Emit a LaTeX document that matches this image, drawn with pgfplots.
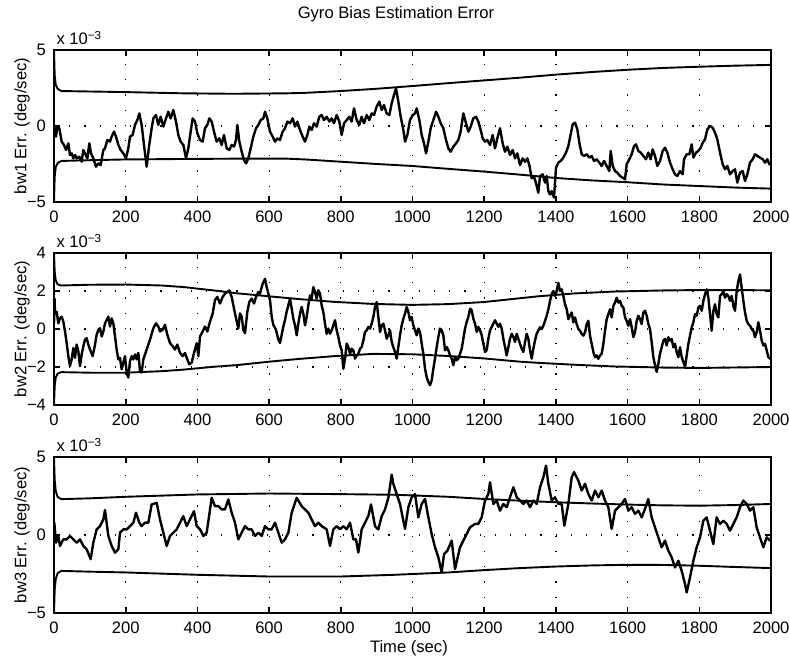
\documentclass[border=0pt]{standalone}
\usepackage{pgfplots}
\pgfplotsset{compat=1.18}
\usepackage{fontspec}
\setmainfont{Liberation Sans}

\newcommand{\lbl}{\fontsize{8.3}{10}\selectfont}

\pgfplotsset{
  errax/.style={
    anchor=north west,
    width=358.5pt, scale only axis,
    xmin=0, xmax=2000, xtick={0,200,...,2000},
    scaled x ticks=false,
    /pgf/number format/1000 sep={},
    /pgf/number format/assume math mode=true,
    tick align=inside, tick pos=both,
    major tick length=3pt,
    every tick/.style={black, line width=0.8pt},
    axis line style={line width=1pt},
    grid=major,
    grid style={black, line width=0.6pt, dash pattern=on 0.6pt off 7pt},
    tick label style={font=\lbl},
    label style={font=\lbl},
    xticklabel style={yshift=-1pt},
    yticklabel style={xshift=-0.5pt},
    ylabel style={at={(axis description cs:-0.0445,0.5)}, anchor=center},
    extra description/.code={
      \node[font=\lbl, anchor=south west, inner sep=0pt] at (0.003,1.03) {x 10\textsuperscript{−3}};},
  },
  trace/.style={black, line width=1.2pt, line join=round},
  bound/.style={black, line width=0.95pt, line join=round},
}

\begin{document}
\begin{tikzpicture}
\path[use as bounding box] (-27pt,25pt) rectangle (368pt,-306.5pt);

% ---------- bw1 ----------
\begin{axis}[errax, at={(0,0)}, height=76pt,
  ymin=-5, ymax=5, ytick={-5,0,5}, yticklabels={−5,0,5},
  ylabel={bw1 Err. (deg/sec)},
  extra description/.append code={
    \node[font=\lbl, anchor=center] at (0.477,1) [yshift=18pt] {Gyro Bias Estimation Error};}]
\addplot[bound] coordinates {(0,5)(2,3.3)(5,2.7)(10,2.45)(20,2.3)(100,2.27)(200,2.23)(360,2.15)(500,2.12)(650,2.15)(700,2.18)(800,2.3)(900,2.45)(1000,2.63)(1100,2.82)(1200,3.0)(1300,3.18)(1400,3.38)(1500,3.55)(1600,3.7)(1700,3.82)(1800,3.9)(1900,3.97)(2000,4.02)};
\addplot[bound] coordinates {(0,-5)(2,-3.3)(5,-2.7)(10,-2.45)(20,-2.3)(100,-2.25)(200,-2.2)(360,-2.17)(500,-2.15)(650,-2.15)(700,-2.2)(800,-2.35)(900,-2.5)(1000,-2.63)(1100,-2.82)(1200,-3.0)(1300,-3.2)(1400,-3.42)(1500,-3.58)(1600,-3.7)(1700,-3.85)(1800,-3.95)(1900,-4.05)(2000,-4.12)};
\addplot[trace] coordinates {(0,0.1)(2,-0.3)(5.6,-0.7)(9.3,-0.04)(14.9,-0.15)(21.4,-1.03)(27.9,-1.25)(33.5,-1.58)(40,-1.14)(44.6,-1.91)(49.3,-1.8)(53.9,-2.13)(58.6,-1.91)(63.2,-2.13)(70.7,-2.02)(77.2,-2.35)(81.8,-1.58)(86.5,-1.8)(93,-2.13)(98.6,-1.14)(103.2,-1.8)(109.7,-2.13)(117.2,-2.68)(123.7,-2.46)(130.2,-2.57)(137.6,-1.58)(142.3,-1.47)(148.8,-0.92)(156.2,-1.03)(160.9,-0.7)(167.4,-0.37)(172.9,-0.7)(179.5,-1.25)(186,-1.58)(193.4,-1.8)(200.8,-2.13)(207.3,-1.47)(212,-0.7)(219.4,-0.59)(225.9,0.07)(232.4,0.39)(238,0.83)(244.5,0.07)(251,-1.25)(258.5,-2.68)(265,-1.36)(272.4,-0.15)(277.1,0.5)(284.5,0.72)(291,0.07)(297.5,0.61)(305,-0.04)(312.4,0.5)(318.9,0.94)(325.4,0.5)(332.9,1.05)(340.3,0.29)(346.8,-0.59)(353.3,-1.03)(360.8,-1.25)(368.2,-2.13)(374.7,-1.47)(381.2,-0.37)(386.8,0.5)(393.3,0.29)(399.8,-0.48)(407.3,-0.92)(414.7,-1.03)(421.2,-0.15)(427.7,0.07)(433.3,0.5)(439.8,0.29)(446.3,-0.37)(453.7,-1.03)(461.2,-0.81)(467.7,-1.25)(474.2,-0.59)(481.6,-1.47)(489.1,-1.58)(495.6,-1.25)(502.1,-1.36)(507.7,-0.92)(511.4,0.07)(517,-1.03)(523.5,-1.69)(530,-2.24)(535.6,-2.46)(542.1,-2.13)(548.6,-1.47)(556,-0.7)(563.5,-0.15)(570,0.07)(576.5,0.39)(583.9,0.5)(588.6,0.94)(595.1,0.5)(602.5,-0.37)(610,-0.7)(616.5,-1.03)(623,-0.81)(630.4,-0.92)(637.8,-0.37)(644.4,-0.15)(650.9,0.29)(658.3,0.18)(665.7,0.5)(672.2,-0.04)(678.8,0.29)(686.2,-0.26)(693.6,-0.7)(700.1,-1.03)(706.6,-0.59)(712.2,-0.04)(718.7,-0.26)(725.2,0.18)(732.7,-0.04)(740.1,0.61)(746.6,0.72)(753.1,0.39)(760.6,0.61)(768,0.29)(774.5,0.5)(781,0.18)(788.5,0.72)(795.9,0.29)(802.4,-0.59)(809,0.18)(816.4,0.39)(823.8,0.61)(830.3,0.29)(836.8,1.16)(844.3,0.39)(851.7,0.07)(858.2,0.61)(864.7,0.18)(872.2,0.72)(879.6,0.39)(886.1,0.83)(892.6,0.72)(900,1.27)(907.5,1.6)(914,1.05)(920.5,1.38)(927.9,0.83)(935.4,0.72)(941.9,1.49)(948.4,2.04)(954,2.48)(960.5,1.6)(967,0.61)(974.4,-0.26)(979.1,-1.03)(985.6,-0.59)(993,0.39)(1000.5,0.72)(1007,0.83)(1011.6,1.16)(1019.1,0.39)(1025.6,-0.59)(1032.1,-1.14)(1037.7,-1.8)(1044.2,-1.03)(1050.7,-0.15)(1058.1,0.39)(1065.6,0.94)(1072.1,0.61)(1078.6,0.18)(1086,-0.15)(1093.5,-0.92)(1100,-1.47)(1106.5,-1.69)(1113.9,-1.36)(1121.3,-1.14)(1127.8,-0.92)(1134.3,-0.37)(1141.8,0.83)(1149.2,0.18)(1155.7,-0.37)(1162.3,-0.04)(1169.7,0.5)(1177.1,0.61)(1183.6,0.29)(1190.1,-0.26)(1195.7,-0.81)(1202.2,-1.03)(1208.7,-0.92)(1216.2,-1.25)(1223.6,-0.59)(1230.1,-1.47)(1236.6,-0.81)(1244.1,-0.15)(1251.5,-1.14)(1258,-1.69)(1264.5,-1.36)(1272,-1.91)(1279.4,-1.58)(1285.9,-2.13)(1292.4,-1.8)(1299.9,-2.57)(1307.3,-2.13)(1313.8,-2.35)(1320.3,-2.13)(1325.9,-2.57)(1332.4,-3.44)(1338.9,-3.33)(1344.5,-3.77)(1351,-4.39)(1355.7,-3.29)(1363.1,-3.18)(1369.6,-3.73)(1374.2,-3.29)(1378.9,-4.28)(1383.5,-4.5)(1388.2,-4.28)(1394.7,-4.71)(1400.3,-2.74)(1406.8,-2.41)(1413.3,-2.3)(1420.7,-2.08)(1428.2,-1.75)(1434.7,-1.32)(1441.2,-0.55)(1446.8,0.11)(1453.3,0.22)(1459.8,-0.22)(1465.4,-1.1)(1471.9,-1.86)(1478.4,-1.97)(1485.8,-1.86)(1493.3,-2.08)(1499.8,-1.97)(1506.3,-2.3)(1513.7,-2.19)(1521.2,-2.41)(1527.7,-2.63)(1534.2,-2.3)(1541.6,-2.63)(1549,-2.96)(1552.8,-1.64)(1558.4,-2.63)(1564.9,-2.96)(1571.4,-3.07)(1578.8,-3.29)(1586.2,-3.4)(1592.8,-3.51)(1597.4,-2.52)(1604.8,-2.19)(1611.3,-1.86)(1617.9,-1.32)(1623.4,-1.21)(1629.9,-1.64)(1636.5,-1.75)(1643.9,-1.97)(1651.3,-2.19)(1657.8,-1.75)(1664.3,-2.19)(1669.9,-1.54)(1676.4,-1.97)(1682.9,-2.63)(1690.4,-2.3)(1697.8,-1.64)(1704.3,-1.43)(1710.8,-1.75)(1718.3,-2.41)(1725.7,-2.85)(1732.2,-3.18)(1738.7,-3.29)(1746.2,-2.96)(1753.6,-3.18)(1757.3,-2.19)(1764.8,-1.86)(1772.2,-1.86)(1778.7,-1.21)(1783.4,-2.08)(1790.8,-1.75)(1797.3,-1.64)(1803.8,-1.43)(1809.4,-1.1)(1815.9,-0.88)(1822.4,-0.22)(1829.8,0)(1837.3,-0.11)(1843.8,-0.44)(1850.3,-0.88)(1857.7,-1.75)(1865.2,-2.52)(1871.7,-2.85)(1878.2,-2.63)(1885.6,-3.18)(1893.1,-2.96)(1899.6,-2.85)(1906.1,-3.73)(1913.5,-3.07)(1921,-2.96)(1927.5,-3.62)(1934,-3.18)(1941.4,-2.41)(1948.9,-2.19)(1955.4,-1.86)(1961.9,-1.97)(1969.3,-2.08)(1976.8,-2.19)(1983.3,-2.41)(1989.8,-2.19)(1995.4,-2.52)(2000,-2.45)};
\end{axis}

% ---------- bw2 ----------
\begin{axis}[errax, at={(0,-101.5pt)}, height=76pt,
  ymin=-4, ymax=4, ytick={-4,-2,0,2,4}, yticklabels={−4,−2,0,2,4},
  ylabel={bw2 Err. (deg/sec)}]
\addplot[bound] coordinates {(0,4)(2,3)(5,2.55)(10,2.35)(20,2.29)(100,2.33)(200,2.34)(300,2.29)(360,2.21)(450,2.02)(510,1.88)(600,1.72)(680,1.58)(780,1.43)(890,1.32)(1000,1.27)(1100,1.31)(1200,1.42)(1300,1.62)(1350,1.72)(1450,1.87)(1560,1.97)(1700,2.03)(1800,2.05)(2000,2.04)};
\addplot[bound] coordinates {(0,-4)(2,-3)(5,-2.55)(10,-2.35)(20,-2.27)(100,-2.3)(200,-2.3)(300,-2.22)(360,-2.14)(450,-1.98)(510,-1.9)(600,-1.72)(680,-1.58)(780,-1.43)(890,-1.31)(1000,-1.33)(1100,-1.42)(1200,-1.55)(1300,-1.72)(1350,-1.78)(1450,-1.88)(1560,-1.97)(1700,-2.03)(1800,-2.05)(2000,-2.0)};
\addplot[trace] coordinates {(0,0.3)(1.5,1.6)(2.8,0.82)(7.4,0.91)(12.1,0.3)(16.7,0.56)(21.4,0.65)(26,0.39)(30.7,-0.13)(35.3,-0.74)(40,-1.43)(44.6,-1.95)(49.3,-1.6)(53.9,-1)(58.6,-1.52)(63.2,-0.82)(67.9,-1.17)(72.5,-1.95)(77.2,-1.34)(81.8,-0.91)(86.5,-0.56)(91.1,-0.48)(95.8,-0.82)(100.4,-1.08)(107.9,-1.43)(114.4,-0.82)(119,-0.3)(123.7,-0.04)(128.3,0.04)(133,-0.39)(137.6,-0.13)(142.3,0.3)(146.9,0.48)(151.6,0.65)(156.2,0.13)(160.9,0.56)(165.5,0.3)(170.2,-0.39)(174.8,-1.08)(179.5,-1.6)(184.1,-1.52)(188.7,-2.12)(193.4,-1.77)(198,-1.43)(202.7,-2.29)(207.3,-2.55)(212,-1.69)(216.6,-1.43)(221.3,-1.6)(225.9,-1.34)(230.6,-1.6)(235.2,-1.26)(239.9,-2.21)(244.5,-2.29)(249.2,-1.6)(258.5,-1.08)(267.8,-0.56)(277.1,0.04)(284.5,0.3)(291,0.13)(295.7,-0.13)(303.1,-0.04)(309.6,0.22)(316.1,-0.3)(323.6,-0.74)(331,-0.91)(337.5,-1.08)(344,-0.82)(351.5,-1.26)(358.9,-1.43)(365.4,-1.26)(371.9,-1.6)(377.5,-1.86)(384,-1.77)(390.5,-1.26)(398,-0.74)(402.6,-1.43)(407.3,-0.39)(414.7,-0.13)(421.2,0.13)(427.7,-0.13)(435.2,0.39)(442.6,0.82)(449.1,1.52)(455.6,1.69)(463,1.34)(470.5,1.69)(477,1.86)(483.5,1.95)(489.1,2.03)(495.6,1.69)(502.1,1.08)(507.7,0.56)(514.2,0.04)(518.8,0.82)(523.5,0.65)(528.1,-0.04)(532.8,-0.22)(539.3,0.91)(544.9,1.43)(551.4,1.6)(557.9,1.34)(563.5,1.69)(570,1.95)(574.6,1.86)(582,2.38)(588.6,2.64)(593.2,2.21)(597.9,1.86)(602.5,1.52)(607.2,0.65)(611.8,0.22)(619.2,-0.04)(625.8,-0.56)(630.4,-0.74)(635.1,-0.3)(639.7,0.13)(644.4,0.48)(649,0.91)(653.7,1.25)(658.3,1.6)(663,1.07)(667.6,0.54)(672.2,0.19)(676.9,-0.33)(681.5,0.28)(686.2,0.81)(690.8,1.16)(695.5,0.81)(700.1,0.19)(704.8,0.63)(709.4,1.25)(714.1,1.77)(718.7,1.6)(723.4,2.21)(728,1.95)(732.7,1.6)(737.3,2.04)(742,1.86)(746.6,1.25)(751.3,0.89)(755.9,0.28)(760.6,-0.25)(765.2,0.02)(769.9,-0.25)(774.5,-0.07)(779.2,0.19)(783.8,0.46)(788.5,-0.07)(793.1,-0.42)(797.8,-0.86)(802.4,-1.12)(807.1,-2.09)(811.7,-1.56)(816.4,-0.77)(821,-0.95)(825.7,-1.3)(830.3,-1.04)(835,-1.12)(839.6,-1.56)(844.3,-1.39)(848.9,-1.3)(853.6,-1.04)(858.2,-0.95)(862.9,-0.6)(867.5,-0.16)(872.2,-0.07)(876.8,0.11)(881.5,0.02)(886.1,0.28)(890.8,0.63)(895.4,1.16)(900.1,1.42)(904.7,0.63)(909.4,-0.16)(914,0.19)(918.7,0.28)(923.3,-0.07)(928,-0.51)(932.6,-0.33)(937.3,-0.07)(941.9,-0.68)(946.5,-0.95)(951.2,-1.21)(955.8,-1.56)(960.5,-0.95)(965.1,-0.33)(969.8,0.19)(974.4,0.54)(979.1,0.81)(983.7,1.16)(988.4,0.89)(993,0.46)(997.7,0.63)(1002.3,0.19)(1007,-0.07)(1011.6,-0.33)(1016.3,0.02)(1020.9,-0.16)(1025.6,-0.77)(1030.2,-1.3)(1034.9,-2.09)(1039.5,-2.53)(1044.2,-2.79)(1048.8,-2.96)(1053.5,-2.7)(1058.1,-2.09)(1062.8,-1.56)(1067.4,-0.95)(1072.1,-0.42)(1076.7,0.02)(1081.4,-0.07)(1086,-0.33)(1090.7,-1.12)(1095.3,-0.95)(1100,-1.12)(1104.6,-1.39)(1109.3,-1.56)(1113.9,-1.91)(1118.6,-1.48)(1123.2,-1.65)(1127.9,-1.56)(1132.5,-1.3)(1137.2,-1.04)(1141.8,-0.51)(1146.5,0.02)(1151.1,0.37)(1155.8,0.63)(1160.4,1.07)(1165.1,0.98)(1169.7,0.54)(1174.4,0.28)(1179,-0.16)(1183.7,0.11)(1188.3,-0.07)(1193,-0.33)(1197.6,-0.77)(1202.3,-1.21)(1206.9,-1.12)(1211.6,-0.51)(1216.2,-0.07)(1220.9,0.11)(1225.5,0.28)(1230.2,0.46)(1234.8,0.28)(1239.5,0.11)(1244.1,0.28)(1248.8,0.02)(1253.4,-0.51)(1258.1,-0.95)(1262.7,-1.39)(1267.4,-0.95)(1272,-0.51)(1276.7,-0.25)(1281.3,-0.42)(1286,-0.68)(1290.6,-0.25)(1295.3,-0.51)(1299.9,-0.77)(1304.6,-1.04)(1309.2,-1.21)(1313.9,-0.68)(1318.5,-0.25)(1323.2,-0.51)(1327.8,-1.12)(1332.5,-1.56)(1337.1,-1.04)(1341.8,-0.6)(1346.4,-0.25)(1351.1,-0.07)(1355.7,0.09)(1360.3,0)(1365,0.17)(1369.6,0.43)(1374.3,0.7)(1378.9,1.04)(1383.6,1.48)(1388.2,1.83)(1392.9,2)(1397.5,1.74)(1402.2,2)(1406.8,2.43)(1411.5,2)(1416.1,2.09)(1420.8,1.74)(1425.4,1.3)(1430.1,1.04)(1434.7,0.52)(1439.4,0.7)(1444,0.87)(1448.7,0.35)(1453.3,0.61)(1458,0.26)(1462.6,0)(1467.3,-0.09)(1471.9,-0.26)(1476.6,-0.35)(1481.2,-0.17)(1485.9,0.26)(1490.5,0.43)(1495.2,-0.35)(1499.8,-0.78)(1504.5,-1.22)(1509.1,-1.48)(1513.8,-1.39)(1518.4,-1.57)(1523.1,-1.39)(1527.7,-1.3)(1532.4,-0.78)(1537,-0.09)(1541.7,0.52)(1546.3,0.78)(1551,1.04)(1555.6,0.61)(1560.3,1.22)(1564.9,1.39)(1569.6,1.65)(1574.2,1.39)(1578.9,1.48)(1583.5,1.22)(1588.2,1.13)(1592.8,0.61)(1597.4,0.43)(1602.1,0.17)(1606.7,0.52)(1611.4,0.09)(1616,-0.43)(1620.7,-0.17)(1625.3,0.43)(1630,0.7)(1634.6,0.52)(1639.3,0.26)(1643.9,0.87)(1648.6,0.96)(1653.2,0.7)(1657.9,0.26)(1662.5,0)(1667.2,-0.7)(1671.8,-1.48)(1676.5,-1.91)(1681.1,-2.26)(1685.8,-1.83)(1690.4,-1.3)(1695.1,-0.96)(1699.7,-0.61)(1704.4,-0.52)(1709,-0.87)(1713.7,-0.43)(1718.3,-0.61)(1723,-0.52)(1727.6,-0.96)(1732.3,-0.78)(1736.9,-1.22)(1741.6,-1.48)(1746.2,-0.96)(1750.9,-1.48)(1755.5,-1.74)(1760.2,-2)(1764.8,-1.39)(1769.5,-0.78)(1774.1,-0.35)(1778.8,0.09)(1783.4,0.35)(1788.1,0.78)(1792.7,0.7)(1797.4,1.13)(1802,1.22)(1806.7,0.96)(1811.3,1.48)(1816,1.83)(1820.6,2.09)(1825.3,1.65)(1829.9,0.78)(1834.5,-0.09)(1839.2,0.96)(1843.8,1.3)(1848.5,0.78)(1853.1,0.61)(1857.8,1.74)(1862.4,1.83)(1867.1,2)(1871.7,1.65)(1876.4,1.83)(1881,1.74)(1885.7,1.48)(1890.3,1.74)(1895,1.22)(1899.6,0.96)(1904.3,2)(1908.9,2.52)(1913.6,2.87)(1918.2,2.17)(1922.9,1.48)(1927.5,0.87)(1932.2,0.43)(1936.8,0.26)(1941.5,0.17)(1946.1,0)(1950.8,-0.09)(1955.4,-0.43)(1960.1,-0.17)(1964.7,0.35)(1969.4,-0.09)(1974,-0.61)(1978.7,-0.87)(1983.3,-0.78)(1988,-1.13)(1992.6,-1.48)(2000,-1.6)};
\end{axis}

% ---------- bw3 ----------
\begin{axis}[errax, at={(0,-203.5pt)}, height=78pt,
  ymin=-5, ymax=5, ytick={-5,0,5}, yticklabels={−5,0,5},
  ylabel={bw3 Err. (deg/sec)},
  xlabel={Time (sec)},
  xlabel style={at={(axis description cs:0.495,0)}, anchor=center, yshift=-17.5pt}]
\addplot[bound] coordinates {(0,5)(2,3.5)(5,2.8)(10,2.45)(20,2.3)(100,2.35)(200,2.45)(400,2.6)(600,2.66)(800,2.62)(950,2.58)(1100,2.45)(1200,2.31)(1300,2.2)(1400,2.1)(1500,2.02)(1600,1.95)(1700,1.9)(1800,1.88)(1900,1.92)(2000,1.99)};
\addplot[bound] coordinates {(0,-5)(2,-3.5)(5,-2.8)(10,-2.45)(20,-2.3)(100,-2.35)(200,-2.4)(400,-2.55)(600,-2.66)(800,-2.66)(950,-2.55)(1100,-2.4)(1200,-2.25)(1300,-2.12)(1400,-2.02)(1500,-1.95)(1600,-1.91)(1700,-1.92)(1800,-1.97)(1900,-2.05)(2000,-2.12)};
\addplot[trace] coordinates {(0,0.2)(0.9,0.79)(5.6,-0.49)(12.1,-0.06)(16.7,-0.7)(26,-0.28)(35.3,-0.28)(44.6,-0.06)(53.9,-0.28)(63.2,-0.49)(72.5,-0.28)(81.8,-0.7)(91.1,-0.91)(102.3,-1.55)(109.7,-0.49)(119,0.36)(128.3,0.57)(137.6,1.0)(142.3,1.6)(151.6,-0.06)(160.9,-0.7)(170.2,-1.13)(179.5,-0.91)(184.1,0.15)(193.4,0.36)(202.7,0.36)(212,0.57)(221.3,0.79)(228.7,1.43)(238,0.79)(244.5,0.57)(253.8,0.79)(263.1,0.79)(272.4,1.96)(286.4,2.06)(295.7,1.0)(305,0.15)(314.3,-0.7)(323.6,-0.06)(332.9,0.15)(342.2,0.36)(351.5,0.79)(360.8,1.21)(370.1,0.57)(379.4,1.0)(390.5,1.53)(397.9,0.57)(407.3,0.36)(416.6,-0.06)(425.9,0.15)(439.8,2.38)(449.1,1.85)(458.4,1.85)(467.7,1.64)(477,1.64)(486.3,2.28)(495.6,1.43)(504.9,0.79)(514.2,-0.28)(523.5,0.15)(532.8,0.57)(542.1,0.36)(551.4,0.36)(560.7,-0.06)(570,0.15)(579.3,-0.06)(588.6,0.57)(597.9,0.36)(607.2,0.36)(616.5,0.79)(625.8,0.15)(635.1,-0.49)(644.4,-0.28)(653.7,0.15)(663,1.43)(672.2,2.06)(676.9,2.38)(690.8,1.85)(700.1,1.64)(709.4,1.43)(718.7,1.0)(728,0.57)(737.3,0.79)(746.6,0.57)(760.6,0.36)(769.9,-0.7)(779.2,0.36)(788.5,0.57)(797.8,0.36)(807.1,0.57)(816.4,0.36)(825.7,0.79)(835,-0.28)(842.4,-0.28)(848.9,-1.13)(858.2,0.36)(867.5,0.79)(876.8,1.21)(884.2,1.96)(895.4,0.57)(904.7,0.36)(914,1.21)(923.3,1.64)(932.6,2.38)(941.9,3.87)(946.5,3.28)(955.8,2.63)(965.1,1.99)(979.1,0.39)(988.4,1.78)(997.7,2.42)(1007,2.63)(1016.3,1.13)(1025.6,1.99)(1034.9,2.31)(1044.2,1.13)(1053.5,0.06)(1062.8,-0.79)(1072.1,-1.43)(1081.4,-2.4)(1087.9,-1.22)(1097.2,-1.01)(1109.3,-0.36)(1118.6,-2.18)(1132.5,-0.79)(1141.8,-0.36)(1151.1,0.06)(1160.4,0.49)(1174.3,0.71)(1183.6,0.71)(1192.9,1.13)(1202.2,2.21)(1211.5,2.63)(1216.2,3.38)(1225.5,1.99)(1234.8,2.21)(1244.1,1.56)(1253.4,1.99)(1262.7,1.78)(1272,2.42)(1281.3,3.06)(1290.6,2.42)(1299.9,2.21)(1309.2,1.99)(1318.5,2.21)(1327.8,1.78)(1337.1,2.21)(1346.4,1.99)(1355.7,3.06)(1365,3.7)(1372.4,4.45)(1378.9,3.28)(1388.2,2.21)(1397.5,2.42)(1406.8,1.99)(1416.1,1.99)(1423.5,0.6)(1434.7,1.99)(1444,3.7)(1450.5,4.03)(1462.6,3.49)(1471.9,2.85)(1481.2,3.28)(1490.5,2.63)(1499.8,2.21)(1509.1,2.85)(1518.4,2.42)(1527.7,2.85)(1537,2.21)(1546.3,1.78)(1555.6,0.39)(1564.9,1.56)(1574.2,1.78)(1583.5,1.99)(1592.8,2.31)(1602,1.56)(1611.3,1.78)(1620.6,1.35)(1629.9,1.56)(1639.2,1.13)(1648.5,1.67)(1657.8,2.31)(1667.1,1.13)(1676.4,0.49)(1685.7,-0.15)(1695,-0.79)(1704.3,-0.36)(1713.6,-1.01)(1722.9,-1.43)(1732.2,-2.08)(1741.5,-1.65)(1750.8,-2.29)(1760.1,-3.15)(1764.8,-3.68)(1774.1,-2.72)(1783.4,-1.65)(1792.7,-0.79)(1802,-0.15)(1811.3,0.92)(1820.5,1.13)(1829.8,0.28)(1839.1,-0.58)(1848.4,1.13)(1857.7,0.71)(1867,0.92)(1876.3,0.71)(1885.6,0.28)(1894.9,0.71)(1904.2,1.13)(1913.5,1.78)(1922.8,2.21)(1932.1,1.99)(1941.4,1.56)(1950.7,1.78)(1960,0.49)(1969.3,-0.15)(1978.6,-0.79)(1987.9,-0.15)(1997.2,-0.36)(2000,-0.3)};
\end{axis}
\end{tikzpicture}
\end{document}
